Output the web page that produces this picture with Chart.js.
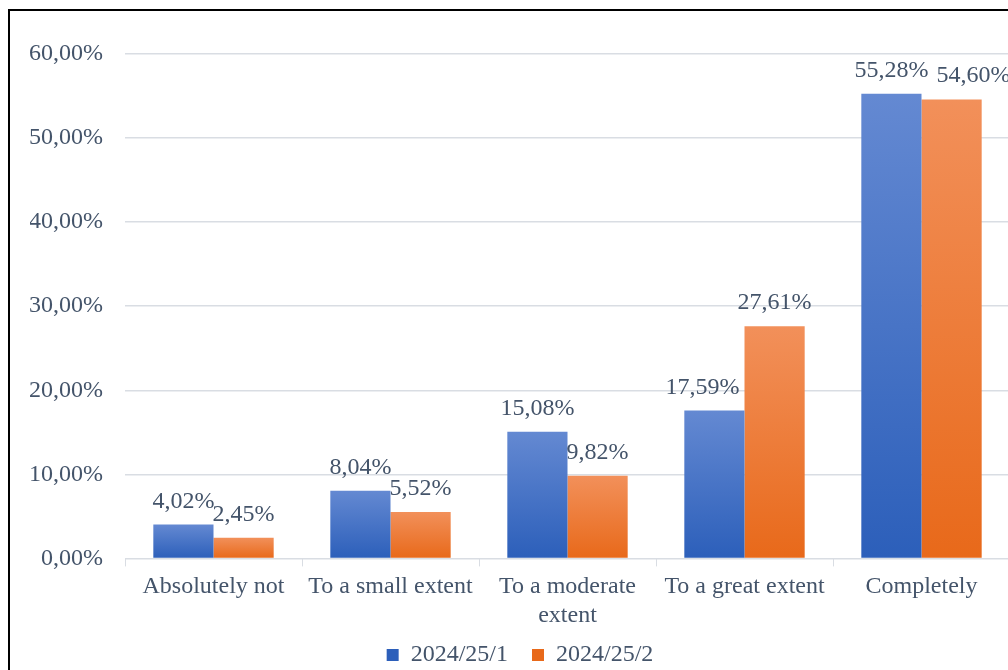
<!DOCTYPE html>
<html>
<head>
<meta charset="utf-8">
<script src="https://cdn.jsdelivr.net/npm/chart.js@4/dist/chart.umd.min.js"></script>
<style>
  html, body { margin: 0; padding: 0; background: #fff; overflow: hidden; }
  #frame {
    position: absolute; left: 8px; top: 9px;
    width: 1100px; height: 800px;
    border: 2px solid #000; box-sizing: border-box;
  }
  #wrap { position: absolute; left: 0; top: 0; width: 1010px; height: 670px; }
</style>
</head>
<body>
<div id="frame"></div>
<div id="wrap"><canvas id="chart"></canvas></div>
<script>
// Chart data
const categories = ["Absolutely not", "To a small extent", ["To a moderate", "extent"], "To a great extent", "Completely"];
const seriesNames = ["2024/25/1", "2024/25/2"];
const series1 = [4.02, 8.04, 15.08, 17.59, 55.28];
const series2 = [2.45, 5.52, 9.82, 27.61, 54.60];
const yTicks = [0, 10, 20, 30, 40, 50, 60];

const TEXT = "#44546a";
const FONT = "'Liberation Serif', 'Times New Roman', serif";

// Format number the way the source does: comma as decimal mark
function pct(v) {
  return v.toFixed(2).replace(".", ",") + "%";
}

// Per-bar vertical gradient (lighter at top, darker at bottom)
function barGradient(top, bottom, fallback) {
  return function (ctx) {
    const chart = ctx.chart;
    const area = chart.chartArea;
    if (!area || ctx.dataIndex === undefined || !chart.scales.y) return fallback;
    const v = ctx.dataset.data[ctx.dataIndex];
    const yTop = chart.scales.y.getPixelForValue(v);
    const g = chart.ctx.createLinearGradient(0, yTop, 0, area.bottom);
    g.addColorStop(0, top);
    g.addColorStop(1, bottom);
    return g;
  };
}

// Value labels above each bar
const valueLabels = {
  id: "valueLabels",
  afterDatasetsDraw(chart, args, opts) {
    const ctx = chart.ctx;
    ctx.save();
    ctx.font = "24px " + FONT;
    ctx.fillStyle = TEXT;
    ctx.textAlign = "center";
    ctx.textBaseline = "alphabetic";
    chart.data.datasets.forEach(function (ds, di) {
      const meta = chart.getDatasetMeta(di);
      const nudge = (opts.nudge && opts.nudge[di]) || [];
      meta.data.forEach(function (bar, i) {
        const dx = nudge[i] || 0;
        ctx.fillText(pct(ds.data[i]), bar.x + dx, bar.y - 17);
      });
    });
    ctx.restore();
  }
};

// Pull the legend up a little so it sits closer to the axis labels
const legendLift = {
  id: "legendLift",
  afterLayout(chart, args, opts) {
    if (chart.legend) {
      chart.legend.top -= opts.lift;
      chart.legend.bottom -= opts.lift;
    }
  }
};

const ctx = document.getElementById("chart").getContext("2d");
new Chart(ctx, {
  type: "bar",
  data: {
    labels: categories,
    datasets: [
      {
        label: seriesNames[0],
        data: series1,
        backgroundColor: barGradient("#6489d2", "#2c5fba", "#4472c4"),
        categoryPercentage: 0.68,
        barPercentage: 1.0,
      },
      {
        label: seriesNames[1],
        data: series2,
        backgroundColor: barGradient("#f2905a", "#e8691a", "#ed7d31"),
        categoryPercentage: 0.68,
        barPercentage: 1.0,
      },
    ],
  },
  options: {
    responsive: true,
    maintainAspectRatio: false,
    animation: false,
    layout: { padding: { left: 30, top: 54, right: 0, bottom: -24 } },
    plugins: {
      tooltip: { enabled: false },
      valueLabels: { nudge: [[0, 0, 0, -12, 0], [0, 0, 0, 0, 22]] },
      legendLift: { lift: 17 },
      legend: {
        position: "bottom",
        labels: {
          font: { family: FONT, size: 24 },
          color: TEXT,
          boxWidth: 12,
          boxHeight: 12,
          padding: 24,
        },
      },
    },
    scales: {
      x: {
        border: { display: true, color: "#d9dde3", width: 1 },
        grid: {
          display: true,
          drawOnChartArea: false,
          drawTicks: true,
          tickLength: 8,
          color: "#d9dde3",
          offset: true,
        },
        ticks: {
          font: { family: FONT, size: 24 },
          color: TEXT,
          padding: 6,
          maxRotation: 0,
          autoSkip: false,
        },
      },
      y: {
        min: 0,
        max: 60,
        afterFit: function (scale) { scale.width = 95; },
        afterBuildTicks: function (scale) {
          scale.ticks = yTicks.map(function (v) { return { value: v }; });
        },
        border: { display: false },
        grid: { color: "#d9dde3", drawTicks: false, lineWidth: 1.5 },
        ticks: {
          font: { family: FONT, size: 24 },
          color: TEXT,
          padding: 22,
          callback: function (v) { return pct(v); },
        },
      },
    },
  },
  plugins: [valueLabels, legendLift],
});
</script>
</body>
</html>
